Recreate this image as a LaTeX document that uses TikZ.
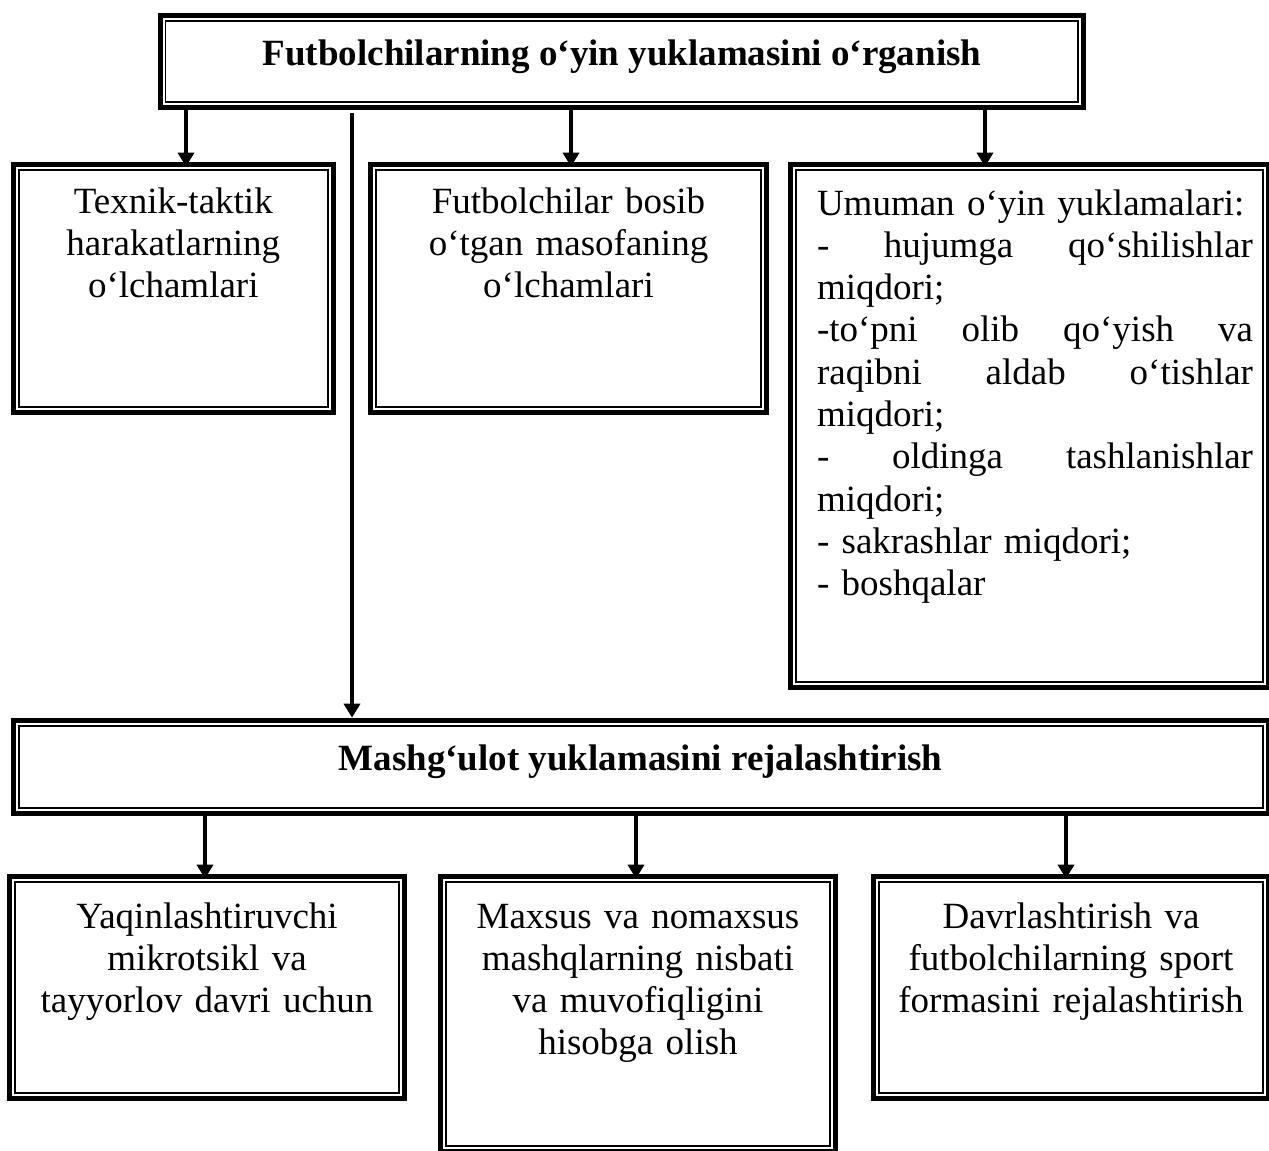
\documentclass[tikz,border=0pt]{standalone}
\usepackage{fontspec}
\setmainfont{Liberation Serif}
\usetikzlibrary{arrows.meta}
\tikzset{
  obox/.style={draw, line width=5.3pt, inner sep=0pt, outer sep=0pt, rectangle},
  ibox/.style={draw, line width=1.6pt},
  txt/.style={inner sep=0pt, outer sep=0pt, align=center, font=\fontsize{37}{42.3}\selectfont},
  ltxt/.style={inner sep=0pt, outer sep=0pt, align=left, font=\fontsize{37}{42.3}\selectfont},
  ttl/.style={inner sep=0pt, outer sep=0pt, font=\fontsize{37}{42.3}\selectfont\bfseries},
  arr/.style={line width=4.6pt, -{Triangle[length=14pt,width=16pt]}},
  conn/.style={line width=4.8pt},
}
\newcommand\drawdbox[5]{%
  \pgfmathsetmacro\bw{#4-#2-5.3}%
  \pgfmathsetmacro\bh{#5-#3-5.3}%
  \node[obox, minimum width=\bw pt, minimum height=\bh pt, anchor=north west] (#1) at (#2+2.65,#3+2.65) {};
  \draw[ibox] ([xshift=5.35pt,yshift=-5.35pt]#1.north west) rectangle ([xshift=-5.35pt,yshift=5.35pt]#1.south east);
}
\newcommand\jthree[3]{\leavevmode\hbox to 436pt{#1\hfill#2\hfill#3}}
\newcommand\jfour[4]{\leavevmode\hbox to 436pt{#1\hfill#2\hfill#3\hfill#4}}
\begin{document}
\begin{tikzpicture}[x=1pt,y=-1pt]
\useasboundingbox (0,0) rectangle (1269,1151);
\clip (0,0) rectangle (1269,1151);
\fill[white] (0,0) rectangle (1269,1151);

% boxes: name, left, top, right, bottom (outer edges)
\drawdbox{top}{157.5}{13}{1086}{110}
\drawdbox{b1}{10.7}{162}{336}{415}
\drawdbox{b2}{368}{162}{769}{415}
\drawdbox{b3}{788}{162}{1271}{690}
\drawdbox{mid}{10.7}{718}{1271}{816}
\drawdbox{c1}{7}{874}{407}{1101}
\drawdbox{c2}{438}{874}{838}{1154}
\drawdbox{c3}{871}{874}{1271}{1101}

% texts
\node[ttl, anchor=base] (ttop) at (622,65) {Futbolchilarning o‘yin yuklamasini o‘rganish};
\node[ttl, anchor=base] (tmid) at (640.5,770) {Mashg‘ulot yuklamasini rejalashtirish};

\node[txt, text width=310pt, anchor=north] (t1) at (173.3,183) {\rule{0pt}{30pt}Texnik-taktik\\harakatlarning\\o‘lchamlari};
\node[txt, text width=380pt, anchor=north] (t2) at (568.5,183) {\rule{0pt}{30pt}Futbolchilar bosib\\o‘tgan masofaning\\o‘lchamlari};
\node[ltxt, text width=436pt, anchor=north west] (t3) at (817,185) {\rule{0pt}{30pt}Umuman o‘yin yuklamalari:\\
\jthree{-}{hujumga}{qo‘shilishlar}\\
miqdori;\\
\jfour{-to‘pni}{olib}{qo‘yish}{va}\\
\jthree{raqibni}{aldab}{o‘tishlar}\\
miqdori;\\
\jthree{-}{oldinga}{tashlanishlar}\\
miqdori;\\
- sakrashlar miqdori;\\
- boshqalar};

\node[txt, text width=380pt, anchor=north] (t4) at (207,898) {\rule{0pt}{30pt}Yaqinlashtiruvchi\\mikrotsikl va\\tayyorlov davri uchun};
\node[txt, text width=380pt, anchor=north] (t5) at (638,898) {\rule{0pt}{30pt}Maxsus va nomaxsus\\mashqlarning nisbati\\va muvofiqligini\\hisobga olish};
\node[txt, text width=380pt, anchor=north] (t6) at (1071,898) {\rule{0pt}{30pt}Davrlashtirish va\\futbolchilarning sport\\formasini rejalashtirish};

% connector positions
\coordinate (xa) at (186,0);
\coordinate (xb) at (571,0);
\coordinate (xc) at (985,0);
\coordinate (xl) at (352,0);
\coordinate (xd) at (205,0);
\coordinate (xe) at (636,0);
\coordinate (xf) at (1066,0);

\draw[arr] (top.south -| xa) -- ([yshift=-2pt]b1.north -| xa);
\draw[arr] (top.south -| xb) -- ([yshift=-2pt]b2.north -| xb);
\draw[arr] (top.south -| xc) -- ([yshift=-2pt]b3.north -| xc);
\draw[conn, -{Triangle[length=14pt,width=16pt]}] ([yshift=-5.6pt]top.south -| xl) -- ([yshift=3pt]mid.north -| xl);
\draw[arr] (mid.south -| xd) -- ([yshift=-2pt]c1.north -| xd);
\draw[arr] (mid.south -| xe) -- ([yshift=-2pt]c2.north -| xe);
\draw[arr] (mid.south -| xf) -- ([yshift=-2pt]c3.north -| xf);
\end{tikzpicture}
\end{document}
